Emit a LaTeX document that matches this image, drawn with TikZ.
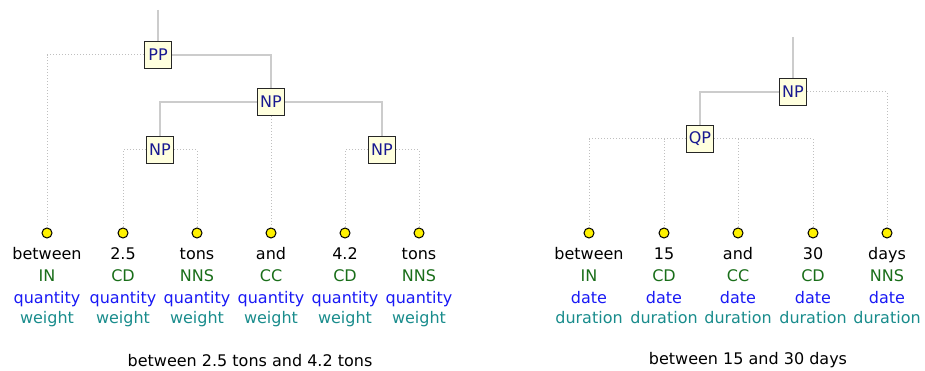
\documentclass[tikz,border=0pt]{standalone}
\usepackage{fontspec}
\setmainfont{DejaVu Sans}
\usetikzlibrary{positioning}
\definecolor{tagGreen}{RGB}{25,110,25}
\definecolor{catBlue}{RGB}{25,25,245}
\definecolor{subTeal}{RGB}{25,140,140}
\definecolor{boxFill}{RGB}{255,255,222}
\definecolor{boxText}{RGB}{25,25,145}
\tikzset{
  phrase/.style={draw=black!85, line width=1.6pt, fill=boxFill, text=boxText,
    minimum size=27pt, inner sep=0pt, font=\fontsize{16}{19}\selectfont},
  leafdot/.style={circle, draw=black, line width=1pt, fill=yellow,
    minimum size=10pt, inner sep=0pt},
  treeln/.style={line width=1.3pt, black!20},
  leafln/.style={line width=1pt, black!25, dash pattern=on 1pt off 2pt},
  wordtxt/.style={anchor=base, inner sep=0pt, font=\fontsize{16}{19}\selectfont},
}
\newcommand{\leaf}[6]{% name, x, word, tag, class, subclass
  \node[leafdot] (#1) at (#2,233) {};
  \node[wordtxt] (#1w) at (#2,259.3) {#3};
  \node[wordtxt, tagGreen] (#1t) at (#2,281.5) {#4};
  \node[wordtxt, catBlue] (#1c) at (#2,303) {#5};
  \node[wordtxt, subTeal] (#1s) at (#2,323.3) {#6};
}

\begin{document}
\begin{tikzpicture}[x=1pt, y=-1pt]
    \useasboundingbox (0,0) rectangle (925,371);
    % --- left: between 2.5 tons and 4.2 tons ---
    \begin{scope}
      \coordinate (ltop) at (158,10);
      \node[phrase] (pp) at (158,55) {PP};
      \node[phrase] (npm) at (271,102) {NP};
      \node[phrase] (npl) at (160,150) {NP};
      \node[phrase] (npr) at (382,150) {NP};
      \leaf{l1}{47}{between}{IN}{quantity}{weight}
      \leaf{l2}{123}{2.5}{CD}{quantity}{weight}
      \leaf{l3}{197}{tons}{NNS}{quantity}{weight}
      \leaf{l4}{271}{and}{CC}{quantity}{weight}
      \leaf{l5}{345}{4.2}{CD}{quantity}{weight}
      \leaf{l6}{419}{tons}{NNS}{quantity}{weight}
      \draw[treeln] (ltop) -- (pp);
      \draw[treeln] (pp.east) -| (npm);
      \draw[treeln] (npm.west) -| (npl);
      \draw[treeln] (npm.east) -| (npr);
      \draw[leafln] (pp.west) -| (l1);
      \draw[leafln] (npl.west) -| (l2);
      \draw[leafln] (npl.east) -| (l3);
      \draw[leafln] (npm) -- (l4);
      \draw[leafln] (npr.west) -| (l5);
      \draw[leafln] (npr.east) -| (l6);
      \node[wordtxt] (lcap) at (250,366) {between 2.5 tons and 4.2 tons};
    \end{scope}
    % --- right: between 15 and 30 days ---
    \begin{scope}
      \coordinate (rtop) at (793,37);
      \node[phrase] (npt) at (793,92) {NP};
      \node[phrase] (qp) at (700,139) {QP};
      \leaf{r1}{589}{between}{IN}{date}{duration}
      \leaf{r2}{664}{15}{CD}{date}{duration}
      \leaf{r3}{738}{and}{CC}{date}{duration}
      \leaf{r4}{813}{30}{CD}{date}{duration}
      \leaf{r5}{887}{days}{NNS}{date}{duration}
      \draw[treeln] (rtop) -- (npt);
      \draw[treeln] (npt.west) -| (qp);
      \draw[leafln] (npt.east) -| (r5);
      \draw[leafln] (qp.west) -| (r1);
      \draw[leafln] (qp.west) -| (r2);
      \draw[leafln] (qp.east) -| (r3);
      \draw[leafln] (qp.east) -| (r4);
      \node[wordtxt] (rcap) at (748,364) {between 15 and 30 days};
    \end{scope}
\end{tikzpicture}
\end{document}
